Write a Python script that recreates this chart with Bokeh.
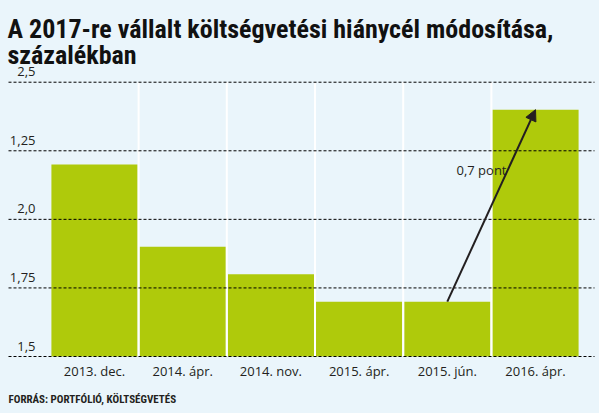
from bokeh.plotting import figure
from bokeh.models import Range1d, Arrow, NormalHead
from bokeh.core.properties import value
from bokeh.embed import file_html
from bokeh.resources import INLINE

# ---------------- data ----------------
categories = ["2013. dec.", "2014. ápr.", "2014. nov.", "2015. ápr.", "2015. jún.", "2016. ápr."]
deficit_target = [2.2, 1.9, 1.8, 1.7, 1.7, 2.4]
y_ticks = [2.5, 2.25, 2.0, 1.75, 1.5]
y_tick_labels = ["2,5", "1,25", "2,0", "1,75", "1,5"]
title_line1 = "A 2017-re vállalt költségvetési hiánycél módosítása,"
title_line2 = "százalékban"
source_text = "FORRÁS: PORTFÓLIÓ, KÖLTSÉGVETÉS"
annotation_text = "0,7 pont"
arrow_from = "2015. jún."
arrow_to = "2016. ápr."

# ---------------- style ----------------
BG = "#eaf5fb"
BAR = "#afca0b"
INK = "#231f20"
W, H = 599, 413
X0, X1 = -1.0658, 5.7256
Y0, Y1 = 1.2922, 2.7979
BASE = min(y_ticks)
TOP = max(y_ticks)
COND = value("Roboto Condensed, Liberation Sans Narrow, DejaVu Sans Condensed, Roboto")

def sx(px):  # reference pixel -> data x
    return X0 + px / W * (X1 - X0)

def sy(py):  # reference pixel -> data y
    return Y1 - py / H * (Y1 - Y0)

idx = list(range(len(categories)))

p = figure(width=W, height=H, x_range=Range1d(X0, X1), y_range=Range1d(Y0, Y1),
           output_backend="svg", toolbar_location=None,
           x_axis_location=None, y_axis_location=None, title=None,
           min_border=0, min_border_left=0, min_border_right=0,
           min_border_top=0, min_border_bottom=0)
p.background_fill_color = BG
p.border_fill_color = BG
p.outline_line_color = None
p.grid.visible = False

# bars
p.vbar(x=idx, top=deficit_target, bottom=BASE, width=0.977,
       fill_color=BAR, line_color=None)

# white separators between bars
bounds = [i + 0.5 for i in idx[:-1]]
p.segment(x0=bounds, y0=[BASE] * len(bounds), x1=bounds, y1=[TOP] * len(bounds),
          line_color="white", line_width=2)

# dashed grid lines (above bars)
n = len(y_ticks)
p.segment(x0=[sx(8)] * n, y0=y_ticks, x1=[sx(594)] * n, y1=y_ticks,
          line_color="black", line_width=1, line_dash="3 2")

# y tick labels
p.text(x=[sx(35)] * n, y=y_ticks, text=y_tick_labels,
       text_align="right", text_baseline="bottom", y_offset=-6,
       text_font=value("Open Sans"), text_font_size="13px", text_color=INK)

# category labels
p.text(x=idx, y=[BASE] * len(idx), text=categories,
       text_align="center", text_baseline="middle", y_offset=14,
       text_font=value("Open Sans"), text_font_size="13px", text_color=INK)

# arrow
i0 = categories.index(arrow_from)
i1 = categories.index(arrow_to)
p.add_layout(Arrow(end=NormalHead(size=11, fill_color=INK, line_color=INK),
                   x_start=i0, y_start=deficit_target[i0],
                   x_end=i1, y_end=deficit_target[i1],
                   line_color=INK, line_width=2))
p.text(x=[sx(506)], y=[sy(169)], text=[annotation_text],
       text_align="right", text_baseline="middle",
       text_font=value("Open Sans"), text_font_size="13px", text_color=INK)

# title
p.text(x=[sx(7)], y=[sy(28.5)], text=[title_line1], text_align="left",
       text_baseline="alphabetic", text_font=COND,
       text_font_style="bold", text_font_size="26px", text_color="#111111")
p.text(x=[sx(7)], y=[sy(54.5)], text=[title_line2], text_align="left",
       text_baseline="alphabetic", text_font=COND,
       text_font_style="bold", text_font_size="26px", text_color="#111111")

# source
p.text(x=[sx(8)], y=[sy(399)], text=[source_text], text_align="left",
       text_baseline="middle", text_font=COND,
       text_font_style="bold", text_font_size="11px", text_color=INK)

html = file_html(p, INLINE)
html = html.replace("<head>", "<head><style>body{background:%s;}</style>" % BG, 1)
open("out.html", "w").write(html)
